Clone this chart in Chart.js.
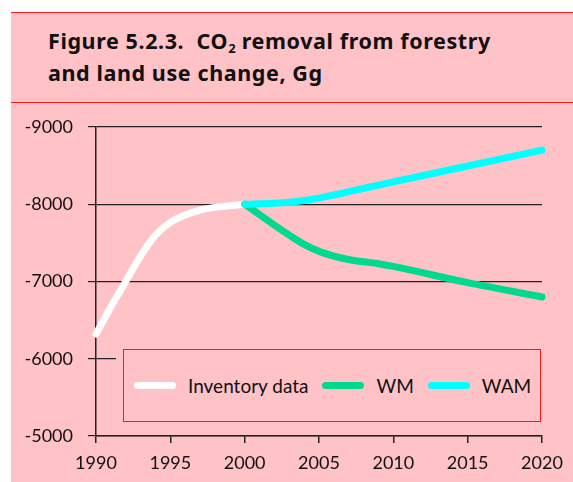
<!DOCTYPE html>
<html>
<head>
<meta charset="utf-8">
<script src="https://cdn.jsdelivr.net/npm/chart.js@4"></script>
<style>
  html, body { margin: 0; padding: 0; background: #fff; width: 573px; height: 482px; overflow: hidden; }
  #panel { position: absolute; left: 11px; top: 12px; width: 562px; height: 470px; background: #ffc2c7; }
  #title {
    position: absolute; left: 11px; top: 12px; width: 562px; height: 89px;
    border-top: 1px solid #ff1a1a; border-bottom: 1px solid #ff1a1a;
    font-family: "Noto Sans", sans-serif; font-weight: bold; font-size: 21.5px;
    letter-spacing: 0.6px; line-height: 32px; color: #111;
  }
  #title div { position: absolute; left: 37px; top: 12px; white-space: nowrap; }
  #title sub { font-size: 13px; vertical-align: -4px; line-height: 0; letter-spacing: 0; }
  #chartWrap { position: absolute; left: 0; top: 0; width: 573px; height: 482px; }
  #legend {
    position: absolute; left: 116px; top: 342px; width: 432px; height: 87px;
    padding: 7px; box-sizing: border-box; background: #ffc2c7;
  }
  #legend .box {
    height: 100%; box-sizing: border-box; border: 1px solid #ff1a1a;
    display: flex; align-items: center; padding-left: 10px; white-space: nowrap;
    font-family: Lato, sans-serif; font-size: 19px; color: #111;
  }
  #legend .swatch { flex: none; width: 42px; height: 7px; border-radius: 4px; margin-right: 12px; }
  #legend .label { margin-right: 14px; }
</style>
</head>
<body>
<div id="panel"></div>
<div id="title"><div>Figure 5.2.3.&nbsp; CO<sub>2</sub> removal from forestry<br>and land use change, Gg</div></div>
<div id="chartWrap"><canvas id="co2Chart" width="573" height="482"></canvas></div>
<div id="legend"><div class="box"></div></div>
<script>
// Inventory years and values (Gg)
const inventoryYears = [1990, 1991, 1992, 1993, 1994, 1995, 1996, 1997, 1998, 1999, 2000];
const inventoryValues = [-6320, -6670, -7000, -7330, -7600, -7765, -7860, -7925, -7960, -7980, -8000];

// Projections
const projYears = [2000, 2001, 2002, 2003, 2004, 2005, 2006, 2007, 2008, 2009, 2010, 2015, 2020];
const wmValues = [-8000, -7865, -7730, -7600, -7480, -7390, -7330, -7285, -7255, -7230, -7195, -6985, -6800];
const wamValues = [-8000, -8005, -8012, -8025, -8048, -8080, -8120, -8163, -8205, -8248, -8290, -8495, -8700];

const seriesNames = ['Inventory data', 'WM', 'WAM'];
const seriesColors = ['#ffffff', '#00d98e', '#00ffff'];

const pts = (xs, ys) => xs.map((x, i) => ({ x: x, y: ys[i] }));

const lineStyle = {
  type: 'line',
  borderWidth: 7,
  borderCapStyle: 'round',
  borderJoinStyle: 'round',
  pointRadius: 0,
  fill: false,
  clip: false,
  cubicInterpolationMode: 'monotone'
};

const chart = new Chart(document.getElementById('co2Chart').getContext('2d'), {
  type: 'line',
  data: {
    datasets: [
      { ...lineStyle, label: seriesNames[0], data: pts(inventoryYears, inventoryValues), borderColor: seriesColors[0], order: 2 },
      { ...lineStyle, label: seriesNames[1], data: pts(projYears, wmValues), borderColor: seriesColors[1], order: 1 },
      { ...lineStyle, label: seriesNames[2], data: pts(projYears, wamValues), borderColor: seriesColors[2], order: 0 }
    ]
  },
  options: {
    responsive: false,
    animation: false,
    layout: { padding: { top: 127, right: 31, bottom: 0, left: 0 } },
    plugins: { legend: { display: false }, tooltip: { enabled: false } },
    scales: {
      x: {
        type: 'linear',
        min: 1990,
        max: 2020,
        afterFit: (s) => { s.height = 46; },
        ticks: {
          stepSize: 5,
          padding: 9,
          maxRotation: 0,
          color: '#111',
          font: { family: 'Lato', size: 18 },
          callback: (v) => String(v)
        },
        grid: { drawOnChartArea: false, drawTicks: true, tickLength: 7, color: '#222', lineWidth: 1.5 },
        border: { color: '#222', width: 1.5 }
      },
      y: {
        min: -9000,
        max: -5000,
        reverse: true,
        afterFit: (s) => { s.width = 96; },
        ticks: {
          stepSize: 1000,
          padding: 15,
          color: '#111',
          font: { family: 'Lato', size: 18 },
          callback: (v) => String(v)
        },
        grid: { color: '#222', lineWidth: 1.2, tickLength: 8 },
        border: { color: '#222', width: 1.5 }
      }
    }
  }
});

// Legend built from the datasets
const box = document.querySelector('#legend .box');
chart.data.datasets.forEach((ds) => {
  const sw = document.createElement('span');
  sw.className = 'swatch';
  sw.style.background = ds.borderColor;
  const lb = document.createElement('span');
  lb.className = 'label';
  lb.textContent = ds.label;
  box.appendChild(sw);
  box.appendChild(lb);
});
</script>
</body>
</html>
